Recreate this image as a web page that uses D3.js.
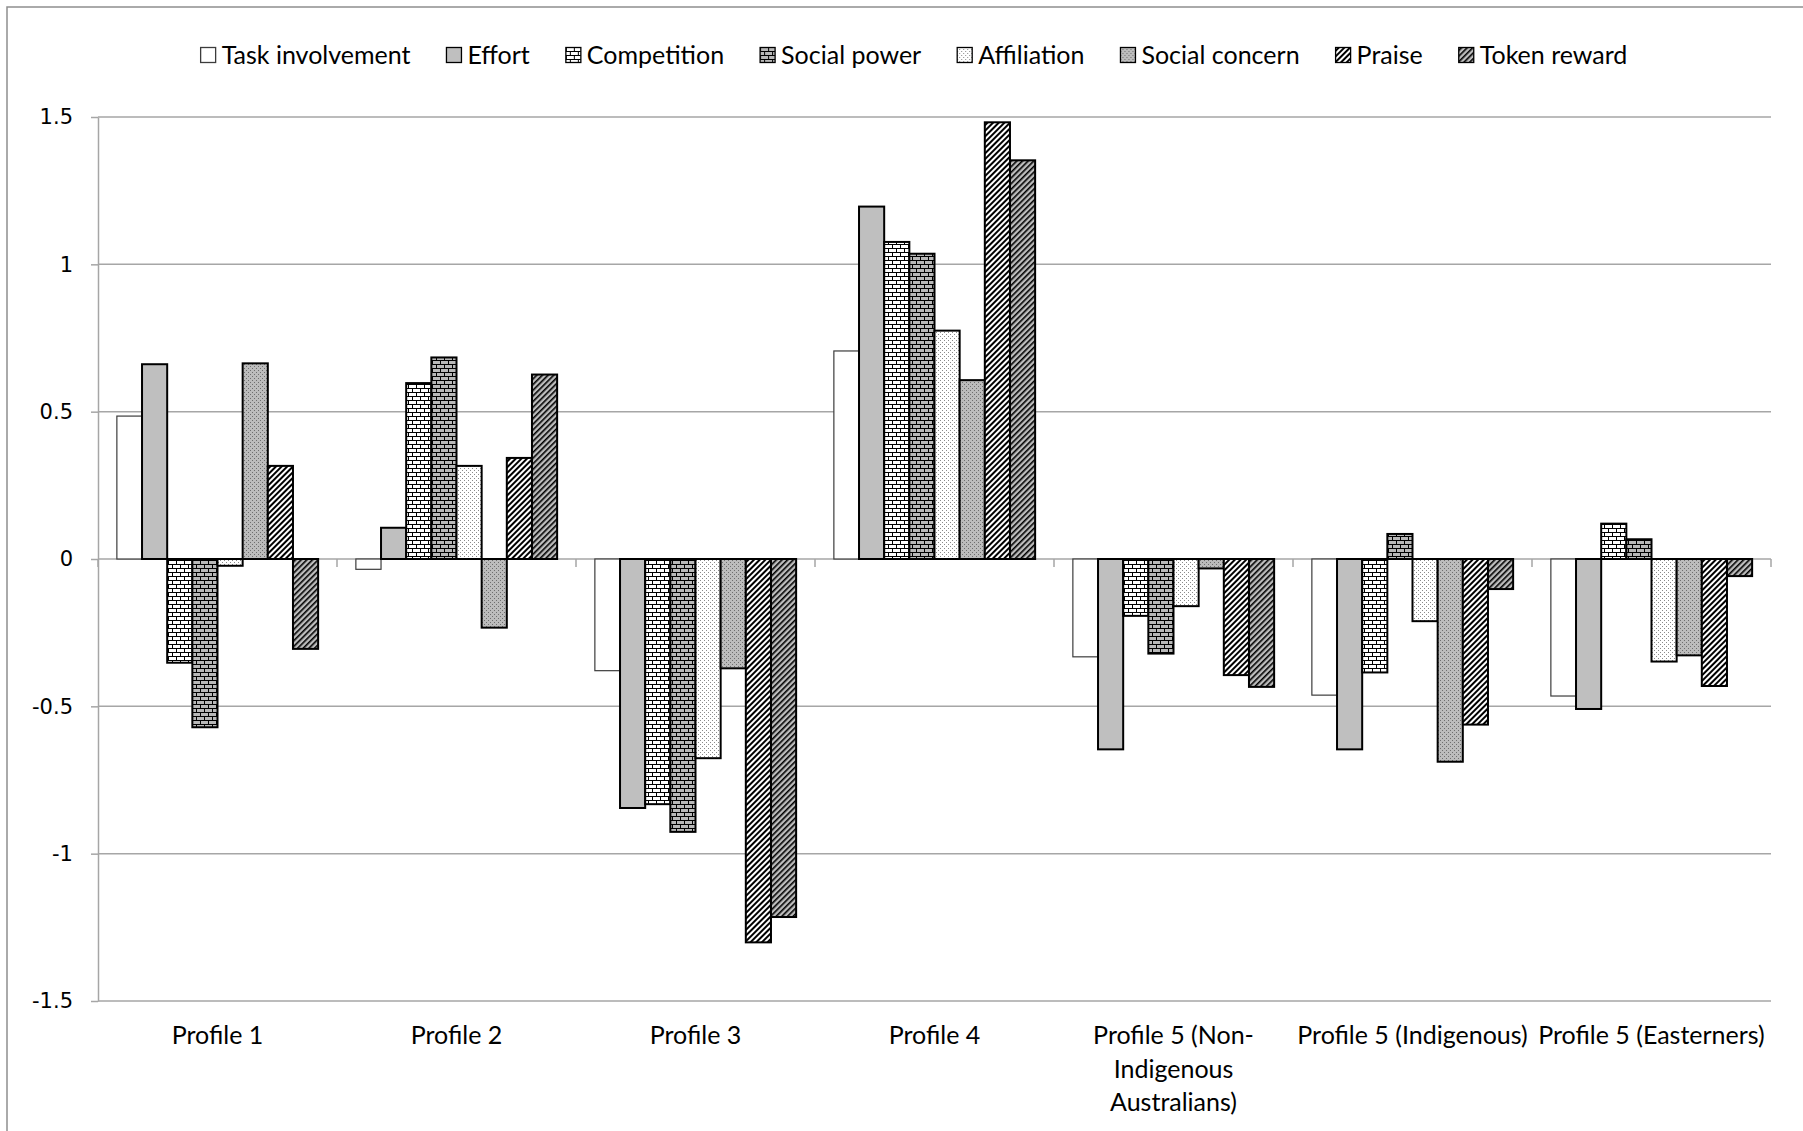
<!DOCTYPE html>
<html>
<head>
<meta charset="utf-8">
<script src="https://cdn.jsdelivr.net/npm/d3@7"></script>
<style>
  html, body { margin: 0; padding: 0; background: #ffffff; }
  svg { display: block; }
</style>
</head>
<body>
<script>
// Category labels ("\n" marks a line break in the axis label)
const categories = [
  "Profile 1",
  "Profile 2",
  "Profile 3",
  "Profile 4",
  "Profile 5 (Non-\nIndigenous\nAustralians)",
  "Profile 5 (Indigenous)",
  "Profile 5 (Easterners)"
];

const seriesNames = [
  "Task involvement", "Effort", "Competition", "Social power",
  "Affiliation", "Social concern", "Praise", "Token reward"
];

// Standardised profile means, one value per category
const taskInvolvement = [0.485, -0.035, -0.379, 0.706, -0.332, -0.462, -0.465];
const effort          = [0.661,  0.106, -0.845, 1.196, -0.646, -0.646, -0.509];
const competition     = [-0.352, 0.597, -0.832, 1.076, -0.193, -0.385,  0.120];
const socialPower     = [-0.571, 0.684, -0.926, 1.036, -0.321,  0.085,  0.067];
const affiliation     = [-0.023, 0.316, -0.676, 0.775, -0.160, -0.211, -0.348];
const socialConcern   = [0.664, -0.233, -0.371, 0.607, -0.032, -0.688, -0.327];
const praise          = [0.316,  0.343, -1.301, 1.482, -0.394, -0.562, -0.431];
const tokenReward     = [-0.305, 0.626, -1.215, 1.353, -0.434, -0.102, -0.058];

const yTickValues = [1.5, 1, 0.5, 0, -0.5, -1, -1.5];
const yTickLabels = ["1.5", "1", "0.5", "0", "-0.5", "-1", "-1.5"];

const seriesValues = [
  taskInvolvement, effort, competition, socialPower,
  affiliation, socialConcern, praise, tokenReward
];

const W = 1803, H = 1131;
const plot = { left: 98, right: 1771, top: 117, bottom: 1001 };
const labelFont = "Lato, 'Open Sans', sans-serif";
const labelSize = 25;

const svg = d3.select("body").append("svg")
  .attr("width", W).attr("height", H);

svg.append("rect").attr("width", W).attr("height", H).attr("fill", "#ffffff");

// ---------- fill patterns ----------
const defs = svg.append("defs");

function brick(id, bg) {
  const p = defs.append("pattern").attr("id", id)
    .attr("patternUnits", "userSpaceOnUse").attr("width", 8).attr("height", 8);
  p.append("rect").attr("width", 8).attr("height", 8).attr("fill", bg);
  p.append("path")
    .attr("d", "M0,0.5H8M0,4.5H8M0.5,0.5V4.5M4.5,4.5V8")
    .attr("stroke", "#000").attr("stroke-width", 1).attr("fill", "none");
}
function dots(id, bg, dot) {
  const p = defs.append("pattern").attr("id", id)
    .attr("patternUnits", "userSpaceOnUse").attr("width", 4).attr("height", 4);
  p.append("rect").attr("width", 4).attr("height", 4).attr("fill", bg);
  p.append("rect").attr("x", 0).attr("y", 0).attr("width", 1).attr("height", 1).attr("fill", dot);
  p.append("rect").attr("x", 2).attr("y", 2).attr("width", 1).attr("height", 1).attr("fill", dot);
}
function stripes(id, bg, stripeW) {
  const p = defs.append("pattern").attr("id", id)
    .attr("patternUnits", "userSpaceOnUse").attr("width", 4).attr("height", 4)
    .attr("patternTransform", "rotate(45)");
  p.append("rect").attr("width", 4).attr("height", 4).attr("fill", bg);
  p.append("rect").attr("x", 0).attr("y", 0).attr("width", stripeW).attr("height", 4).attr("fill", "#000");
}
brick("pCompetition", "#ffffff");
brick("pSocialPower", "#b8b8b8");
dots("pAffiliation", "#ffffff", "#8a8a8a");
dots("pSocialConcern", "#bcbcbc", "#6e6e6e");
stripes("pPraise", "#ffffff", 2);
stripes("pToken", "#bdbdbd", 1.6);

const seriesStyle = [
  { fill: "#ffffff", stroke: "#3c3c3c", sw: 1.2 },
  { fill: "#bfbfbf", stroke: "#000000", sw: 2 },
  { fill: "url(#pCompetition)", stroke: "#000000", sw: 2 },
  { fill: "url(#pSocialPower)", stroke: "#000000", sw: 2 },
  { fill: "url(#pAffiliation)", stroke: "#000000", sw: 2 },
  { fill: "url(#pSocialConcern)", stroke: "#000000", sw: 2 },
  { fill: "url(#pPraise)", stroke: "#000000", sw: 2 },
  { fill: "url(#pToken)", stroke: "#000000", sw: 2 }
];

// chart-area frame
svg.append("rect")
  .attr("x", 7).attr("y", 7).attr("width", W).attr("height", H)
  .attr("fill", "none").attr("stroke", "#8e8e8e").attr("stroke-width", 1.5);

// ---------- scales ----------
const x0 = d3.scaleBand().domain(categories).range([plot.left, plot.right]).padding(0);
const x1 = d3.scaleBand().domain(seriesNames).range([0, x0.bandwidth()])
  .paddingInner(0).paddingOuter(0.75);
const y = d3.scaleLinear().domain([-1.5, 1.5]).range([plot.bottom, plot.top]);

// ---------- gridlines ----------
svg.append("g").selectAll("line")
  .data(yTickValues.filter(v => v !== 0))
  .join("line")
  .attr("x1", plot.left).attr("x2", plot.right)
  .attr("y1", d => y(d)).attr("y2", d => y(d))
  .attr("stroke", "#a6a6a6").attr("stroke-width", 1.5);

// ---------- y axis ----------
const yAxis = svg.append("g")
  .attr("transform", `translate(${plot.left},0)`)
  .call(d3.axisLeft(y)
    .tickValues(yTickValues)
    .tickFormat((d, i) => yTickLabels[i])
    .tickSize(7).tickSizeOuter(0).tickPadding(18));
yAxis.select(".domain").attr("stroke", "#a6a6a6").attr("stroke-width", 1.5);
yAxis.selectAll(".tick line").attr("stroke", "#a6a6a6").attr("stroke-width", 1.5);
yAxis.selectAll(".tick text")
  .attr("font-family", "'DejaVu Sans', Verdana, sans-serif")
  .attr("font-size", 21).attr("fill", "#000");

// ---------- x axis (category boundaries) ----------
const y0 = y(0);
svg.append("line")
  .attr("x1", plot.left).attr("x2", plot.right)
  .attr("y1", y0).attr("y2", y0)
  .attr("stroke", "#a6a6a6").attr("stroke-width", 1.5);
const boundaries = categories.map(c => x0(c)).concat([x0(categories[categories.length - 1]) + x0.bandwidth()]);
svg.append("g").selectAll("line")
  .data(boundaries)
  .join("line")
  .attr("x1", d => d).attr("x2", d => d)
  .attr("y1", y0).attr("y2", y0 + 8)
  .attr("stroke", "#a6a6a6").attr("stroke-width", 1.5);

// ---------- bars ----------
const barData = [];
categories.forEach((c, ci) => {
  seriesNames.forEach((s, si) => {
    barData.push({ cat: c, series: s, si: si, value: seriesValues[si][ci] });
  });
});

svg.append("g").selectAll("rect")
  .data(barData)
  .join("rect")
  .attr("x", d => x0(d.cat) + x1(d.series))
  .attr("width", x1.bandwidth())
  .attr("y", d => y(Math.max(0, d.value)))
  .attr("height", d => Math.abs(y(d.value) - y(0)))
  .attr("fill", d => seriesStyle[d.si].fill)
  .attr("stroke", d => seriesStyle[d.si].stroke)
  .attr("stroke-width", d => seriesStyle[d.si].sw);

// ---------- category labels ----------
const catLabels = svg.append("g").selectAll("text")
  .data(categories)
  .join("text")
  .attr("x", d => x0(d) + x0.bandwidth() / 2)
  .attr("y", 1044)
  .attr("text-anchor", "middle")
  .attr("font-family", labelFont)
  .attr("font-size", labelSize)
  .attr("fill", "#000");
catLabels.each(function (d) {
  const t = d3.select(this);
  d.split("\n").forEach((line, i) => {
    t.append("tspan")
      .attr("x", x0(d) + x0.bandwidth() / 2)
      .attr("dy", i === 0 ? 0 : 33.5)
      .text(line);
  });
});

// ---------- legend ----------
const legend = svg.append("g");
const sw = 15, swGap = 6, itemGap = 36;
const items = legend.selectAll("g")
  .data(seriesNames)
  .join("g");
items.append("rect")
  .attr("width", sw).attr("height", sw)
  .attr("y", -sw / 2)
  .attr("fill", (d, i) => seriesStyle[i].fill)
  .attr("stroke", (d, i) => i === 0 ? "#3c3c3c" : "#000")
  .attr("stroke-width", 1.3);
items.append("text")
  .attr("x", sw + swGap)
  .attr("y", 9)
  .attr("font-family", labelFont)
  .attr("font-size", labelSize)
  .attr("fill", "#000")
  .text(d => d);
let cursor = 0;
const offsets = [];
items.each(function () {
  const tw = d3.select(this).select("text").node().getComputedTextLength();
  offsets.push(cursor);
  cursor += sw + swGap + tw + itemGap;
});
const totalW = cursor - itemGap;
const legendLeft = 914 - totalW / 2;
items.attr("transform", (d, i) => `translate(${legendLeft + offsets[i]},55)`);
</script>
</body>
</html>
